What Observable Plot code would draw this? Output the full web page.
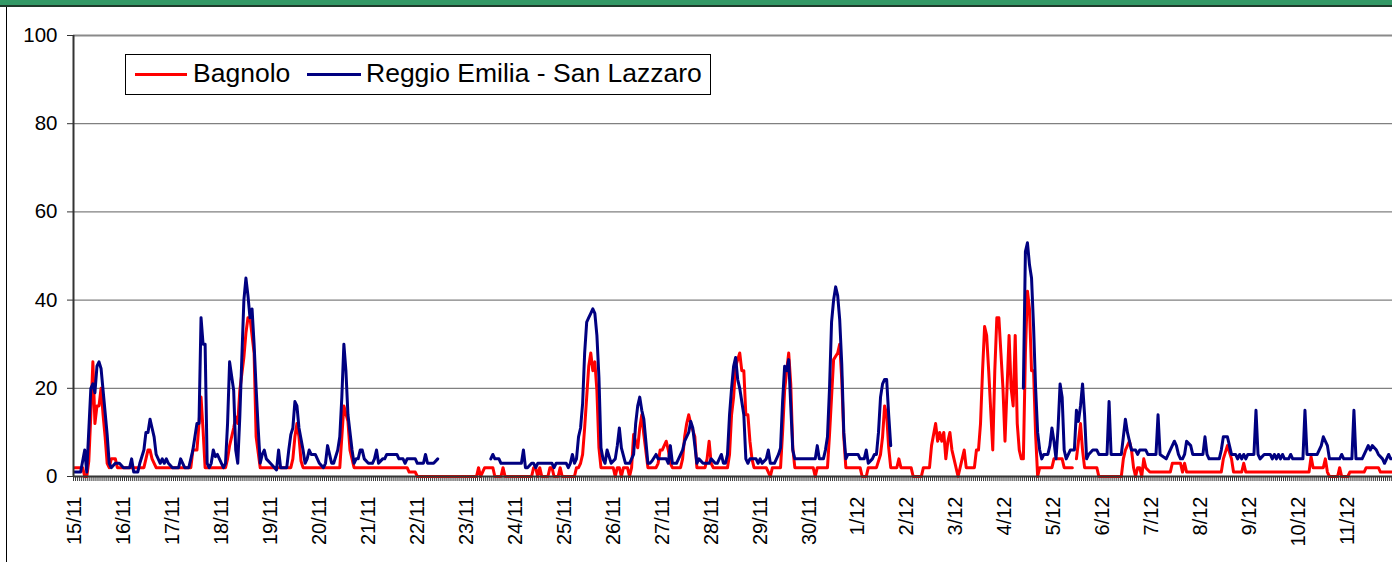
<!DOCTYPE html>
<html>
<head>
<meta charset="utf-8">
<script src="https://cdn.jsdelivr.net/npm/d3@7"></script>
<script src="https://cdn.jsdelivr.net/npm/@observablehq/plot@0.6"></script>
<style>
  html, body { margin: 0; padding: 0; background: #fff; }
  body { font-family: "Liberation Sans", Arial, sans-serif; }
  #wrap { position: relative; width: 1392px; height: 562px; overflow: hidden; background: #fff; }
  #wrap svg { position: absolute; left: 0; top: 0; }
  #topbar { position: absolute; left: 0; top: 0; width: 1392px; height: 5px; background: #339966; border-bottom: 2px solid #1f3b2c; }
  #leftline { position: absolute; left: 6px; top: 7px; width: 1px; height: 555px; background: #000; }
  #legend { position: absolute; left: 125px; top: 54px; width: 584px; height: 39px; border: 1px solid #000; background: #fff; }
  .sw { position: absolute; height: 3px; top: 18px; }
  .lt { position: absolute; top: 5px; font-size: 26.5px; line-height: 26.5px; color: #000; white-space: nowrap; }
</style>
</head>
<body>
<div id="wrap">
  <div id="topbar"></div>
  <div id="leftline"></div>
</div>
<script>
// Series names and colours
const seriesNames = ["Bagnolo", "Reggio Emilia - San Lazzaro"];
const seriesColors = ["#ff0000", "#000080"];

// Category (day) labels, one every 24 hourly readings starting 15/11
const dayLabels = ["15/11","16/11","17/11","18/11","19/11","20/11","21/11","22/11","23/11","24/11","25/11","26/11","27/11","28/11","29/11","30/11","1/12","2/12","3/12","4/12","5/12","6/12","7/12","8/12","9/12","10/12","11/12"];
const yTicks = [0, 20, 40, 60, 80, 100];

// Bagnolo: [hour index since 15/11 00:00, value]; null = missing reading
const bagnolo = [
[0,2],[4,2],[5,0],[6,0],[7,3.5],[8,14],[9,26],[10,12],[11,16],[12,16],[13,20],[14,14],[15,9],[16,3],[17,2],[18,4],[20,4],[21,2],
[34,2],[35,4],[36,6],[37,6],[38,4],[40,2],
[57,2],[58,6],[60,6],[61,12],[62,18],[63,10.5],[64,2],
[74,2],[75,4],[76,7],[78,11],[79,13.5],[80,12],[81,19.5],[83,27],[84,32.5],[85,36],[86,36],[88,28],[89,9],[91,2],
[106,2],[107,4],[108,9],[109,12],[110,9],[111,3.5],[112,2],
[130,2],[131,9],[132,16],[134,12.5],[135,6],[137,2],
[163,2],[164,1],[167,1],[168,0],[197,0],[198,2],[199,0],[201,2],[205,2],[206,0],[209,0],[210,2],[211,0],
[224,0],[225,2],[226,2],[227,0],[228,2],[229,0],[232,0],[233,2],[234,2],[235,0],[237,0],[238,2],[239,0],[245,0],
[246,2],[247,2],[248,3],[249,5],[250,11],[251,18],[252,25],[253,28],[254,24],[255,26],[256,19.5],[257,6.5],[258,2],
[264,2],[265,0],[266,2],[267,2],[268,0],[269,2],[271,2],[272,0],[273,2],[274,9.5],[276,6.5],[277,11],[278,14],[279,9.5],[281,2],
[285,2],[286,3],[287,6],[288,6],[290,8],[291,6],[292,3],[293,2],[297,2],[298,4],[299,9],[300,12],[301,14],[302,12],[304,9],[305,2],
[309,2],[310,4],[311,8],[312,3],[313,2],
[320,2],[321,5],[322,14],[323,18],[324,25],[326,28],[327,24],[328,24],[329,14],[330,14],[331,8],[332,4],[333,2],
[339,2],[341,0],[342,2],[346,2],[347,10],[348,19.5],[349,24],[350,28],[351,21],[352,6.5],[353,2],
[362,2],[363,0],[364,2],[369,2],[370,9.5],[371,18],[372,26.5],[374,28],[375,30],[376,22],[377,9],[378,2],
[385,2],[386,0],[388,0],[389,2],[393,2],[395,5],[396,9],[397,16],[398,14],[399,6.5],[400,2],
[403,2],[404,4],[405,2],[410,2],[411,0],[415,0],[416,2],[419,2],[420,7],[422,12],[423,8],[424,10],[425,8],[426,10],[427,4],[428,8],[429,10],[430,6],[431,4],[433,0],[435,4],[436,6],[437,2],
[441,2],[442,6],[443,6],[444,12],[445,24],[446,34],[447,32],[448,24],[450,6],[451,24],[452,36],[453,36],[454,28],[455,20],[456,8],[457,20],[458,32],[459,20],[460,16],[461,32],[462,12],[463,6],[464,4],[465,4],[466,28],[467,42],[468,38],[469,24],[470,24],[471,9.5],[472,0],[473,2],
[479,2],[480,4],[484,4],[485,2],[489,2],[490,null],[491,4],[492,8],[493,12],[494,6],[495,2],[501,2],[502,0],
[513,0],[514,4],[515,6],[517,8],[518,6],[519,2],[520,0],[521,2],[522,2],[523,0],[524,4],[525,2],[527,1],
[537,1],[538,3],[542,3],[543,1],[544,3],[545,1],[562,1],[563,4],[565,7],[567,4],[568,1],[572,1],[573,3],[574,1],
[605,1],[606,4.5],[607,2],[612,2],[613,4],[614,1],[615,0],[619,0],[620,2],[621,0],[624,0],[625,1],[632,1],[633,2],[639,2],[640,1],[646,1]
];

// Reggio Emilia - San Lazzaro: [hour index, value]; null = missing reading
const sanLazzaro = [
[0,1],[3,1],[5,6],[6,1],[8,20],[9,21],[10,19],[11,25],[12,26],[13,24.5],[14,19.5],[16,9.5],[17,3],[18,2],[20,3],[22,3],[24,2],[27,2],[28,4],[29,1],[31,1],[32,3],[34,6],[35,10],[36,10],[37,13],[38,11],[39,9],[40,5],[42,3],[43,4],[44,3],[45,4],[46,3],[48,2],[51,2],[52,4],[54,2],[56,2],[58,6],[59,9],[60,12],[61,12],[62,36],[63,30],[64,30],[65,3],[66,2],[67,3],[68,6],[69,4.5],[70,5],[72,3],[73,2],[74,3],[75,12],[76,26],[78,19.5],[79,6],[80,3],[81,13.5],[82,27],[83,40],[84,45],[85,41],[86,36],[87,38],[88,30],[89,20],[90,11],[91,3],[92,5],[93,6],[94,4],[96,3],[98,2],[99,1.5],[100,6],[101,2],
[104,2],[105,6],[106,9.5],[107,11],[108,17],[109,16],[110,11],[112,6],[113,3],[114,4],[115,6],[116,5],[118,5],[119,4],[120,3],[122,2],[123,3],[124,7],[125,5],[126,3],[127,3],[129,6],[130,9],[131,18],[132,30],[133,24],[134,14],[136,6],[137,3],[138,4],[139,4],[140,6],[141,6],[142,4],[144,3],[146,3],[147,4],[148,6],[149,3],[151,4],[152,4],[153,5],[158,5],[159,4],[161,4],[162,3],[163,4],[167,4],[168,3],[171,3],[172,5],[173,3],[176,3],[178,4],[179,null],
[204,4],[205,5],[206,4],[208,4],[209,3],[219,3],[220,6],[221,2],[222,2],[224,3],[225,3],[226,2],[227,3],[234,3],[235,2],[236,3],[241,3],[242,2],[243,3],[244,5],[245,3],[246,4],[247,9],[248,11],[249,16.5],[250,28],[251,35],[252,36],[253,37],[254,38],[255,37],[256,32],[257,22.5],[258,6.5],[259,4],[260,3],[261,6],[263,3],[265,4],[266,7],[267,11],[268,6.5],[270,3],[272,3],[274,5],[275,12],[276,16],[277,18],[278,15],[279,13],[281,3],[282,3],[283,3.5],[285,5],[286,4],[290,4],[291,3],[292,7],[293,3],[295,3],[298,6],[299,8],[301,10],[302,12.5],[303,11],[304,7],[305,3],[306,4],[308,3],[311,3],[312,4],[314,3],[315,3],[317,5],[318,3],[319,3],[320,5],[321,14],[322,20],[323,25],[324,27],[325,22],[326,20],[327,17],[328,14],[329,4],[330,3],[331,4],[334,4],[335,3],[336,4],[337,3],[339,4],[340,6],[341,3],[343,3],[345,5],[346,6.5],[347,17],[348,25],[349,24],[350,26.5],[351,16],[352,6],[353,4],[363,4],[364,7],[365,4],[367,4],[368,6],[369,9],[370,20],[371,35],[372,40],[373,43],[374,41],[375,35.5],[376,25.5],[377,10],[378,4],[379,5],[384,5],[385,4],[387,4],[388,6],[389,3],[391,4],[392,5],[393,5],[394,10],[395,18],[396,21],[397,22],[398,22],[399,14],[400,7],[401,null],
[465,20],[466,51],[467,53],[468,48],[469,45],[470,34],[471,20],[472,10],[473,6],[474,4],[475,5],[477,5],[478,7],[479,11],[480,8],[481,4],[482,11],[483,21],[484,18],[485,6],[486,4],[488,6],[490,6],[491,15],[492,12.5],[493,16],[494,21],[495,14],[496,4],[497,5],[499,6],[501,6],[502,5],[506,5],[507,17],[508,5],[513,5],[514,9],[515,13],[516,10],[517,8],[518,6],[520,6],[521,5],[522,6],[525,6],[526,5],[530,5],[531,14],[532,5],[535,4],[536,5],[539,8],[540,7],[541,5],[542,4],[543,4],[544,5],[545,8],[547,7],[548,5],[553,5],[554,9],[555,5],[556,4],[561,4],[562,6],[563,9],[565,9],[566,7],[567,5],[569,5],[570,4],[571,5],[572,4],[573,5],[574,4],[575,5],[578,5],[579,15],[580,5],[581,4],[583,5],[586,5],[587,4],[588,5],[589,4],[590,5],[591,4],[592,5],[593,4],[595,4],[596,5],[597,4],[602,4],[603,15],[604,5],[609,5],[611,7],[612,9],[614,7],[615,4],[620,4],[621,5],[622,4],[626,4],[627,15],[628,4],[631,4],[633,6],[634,7],[635,6],[636,7],[638,6],[639,5],[641,4],[642,3],[644,5],[645,4],[646,4]
];

const hoursPerDay = 24;
const lastHour = 646;

const toRows = (pairs) => pairs.map(([h, v]) => ({h, v}));
const bagnoloRows = toRows(bagnolo);
const lazzaroRows = toRows(sanLazzaro);

const hourTicks = d3.range(-0.5, lastHour + 0.5, 1);
const dayTicks = dayLabels.map((_, i) => i * hoursPerDay);

const chart = Plot.plot({
  width: 1392,
  height: 562,
  marginTop: 35,
  marginBottom: 86,
  marginLeft: 73,
  marginRight: 0,
  x: {domain: [-0.5, 645.9]},
  y: {domain: [0, 100]},
  style: {fontFamily: "'Liberation Sans', Arial, sans-serif", fontSize: "20px", color: "#000", background: "transparent", overflow: "visible"},
  marks: [
    Plot.ruleY([20, 40, 60, 80], {stroke: "#808080", strokeWidth: 1.3}),
    Plot.ruleY([100], {stroke: "#8a8a8a", strokeWidth: 2}),
    Plot.axisY({ticks: yTicks, tickSize: 6, tickPadding: 10, tickFormat: d => String(d), label: null, stroke: "#333", fill: "#000", fontSize: 20.5}),
    Plot.axisX({ticks: hourTicks, tickSize: 5, tickFormat: () => "", label: null, stroke: "#3a3a3a", strokeWidth: 1}),
    Plot.axisX({ticks: dayTicks, tickSize: 0, tickPadding: 20, tickRotate: -90, tickFormat: d => dayLabels[Math.round(d / hoursPerDay)], label: null, fill: "#000", fontSize: 20}),
    Plot.line(bagnoloRows, {x: "h", y: "v", stroke: seriesColors[0], strokeWidth: 3, strokeLinejoin: "round"}),
    Plot.line(lazzaroRows, {x: "h", y: "v", stroke: seriesColors[1], strokeWidth: 3, strokeLinejoin: "round"}),
    Plot.ruleY([0], {stroke: "#333", strokeWidth: 2}),
    Plot.ruleX([-0.5], {stroke: "#333", strokeWidth: 2})
  ]
});

const wrap = document.getElementById("wrap");
wrap.insertBefore(chart, wrap.firstChild);

// Legend (HTML)
const legend = document.createElement("div");
legend.id = "legend";
const legendLayout = [{swLeft: 9, swWidth: 52, textLeft: 67}, {swLeft: 181, swWidth: 54, textLeft: 240}];
seriesNames.forEach((name, i) => {
  const sw = document.createElement("div");
  sw.className = "sw";
  sw.style.left = legendLayout[i].swLeft + "px";
  sw.style.width = legendLayout[i].swWidth + "px";
  sw.style.background = seriesColors[i];
  const t = document.createElement("div");
  t.className = "lt";
  t.style.left = legendLayout[i].textLeft + "px";
  t.textContent = name;
  legend.appendChild(sw);
  legend.appendChild(t);
});
wrap.appendChild(legend);
</script>
</body>
</html>
